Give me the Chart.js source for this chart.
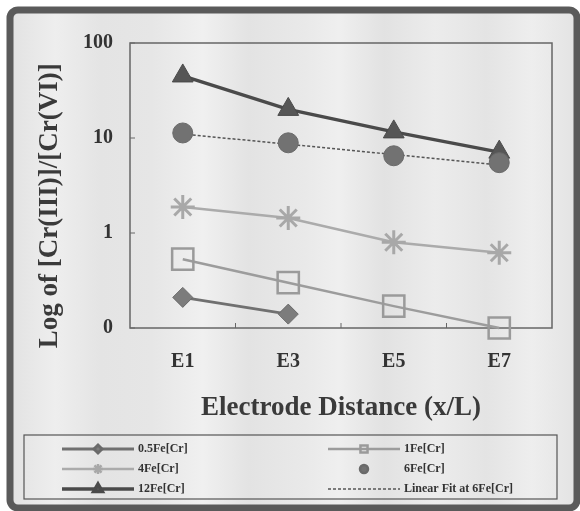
<!DOCTYPE html>
<html>
<head>
<meta charset="utf-8">
<script src="https://cdn.jsdelivr.net/npm/chart.js@4.4.1/dist/chart.umd.min.js"></script>
<style>
  html, body { margin: 0; padding: 0; background: #ffffff; }
  #wrap { width: 580px; height: 511px; }
</style>
</head>
<body>
<div id="wrap"><canvas id="cr" width="580" height="511"></canvas></div>
<script>
// data (log scale, 0.1 shown as "0")
const categories = ["E1", "E3", "E5", "E7"];
const fe05 = [0.21, 0.14, null, null];
const fe1 = [0.53, 0.30, 0.17, 0.10];
const fe4 = [1.88, 1.44, 0.80, 0.62];
const fe6 = [11.3, 8.9, 6.5, 5.5];
const fe12 = [45, 20, 11.6, 7.1];
const fit6 = [11, 8.6, 6.7, 5.2];
const yTicks = [0.1, 1, 10, 100];
const yTickLabels = ["0", "1", "10", "100"];

const SERIF = "'Liberation Serif', 'DejaVu Serif', serif";

// frame + gray paper background (with faint scan streaks)
const paperPlugin = {
  id: "paper",
  beforeDraw(chart) {
    const ctx = chart.ctx;
    ctx.save();
    ctx.fillStyle = "#ffffff";
    ctx.fillRect(0, 0, chart.width, chart.height);
    const g = ctx.createLinearGradient(10, 0, 577, 0);
    g.addColorStop(0.00, "#e2e2e2");
    g.addColorStop(0.08, "#eeeeee");
    g.addColorStop(0.16, "#e4e4e4");
    g.addColorStop(0.25, "#e6e6e6");
    g.addColorStop(0.34, "#f0f0f0");
    g.addColorStop(0.42, "#e3e3e3");
    g.addColorStop(0.52, "#e9e9e9");
    g.addColorStop(0.58, "#efefef");
    g.addColorStop(0.66, "#e2e2e2");
    g.addColorStop(0.75, "#ececec");
    g.addColorStop(0.84, "#e4e4e4");
    g.addColorStop(0.92, "#eeeeee");
    g.addColorStop(1.00, "#e3e3e3");
    ctx.beginPath();
    ctx.roundRect(10, 10, 567, 498, 8);
    ctx.fillStyle = g;
    ctx.fill();
    ctx.lineWidth = 7;
    ctx.strokeStyle = "#5a5a5a";
    ctx.stroke();
    ctx.restore();
  },
  beforeDatasetsDraw(chart) {
    const { ctx, chartArea: a, scales } = chart;
    ctx.save();
    ctx.strokeStyle = "#666";
    ctx.lineWidth = 1.5;
    ctx.strokeRect(a.left, a.top, a.right - a.left, a.bottom - a.top);
    // small inner tick marks
    ctx.lineWidth = 1;
    ctx.beginPath();
    for (let i = 0; i < categories.length - 1; i++) {
      const x = scales.x.getPixelForValue(i + 0.5);
      ctx.moveTo(x, a.bottom);
      ctx.lineTo(x, a.bottom - 5);
    }
    yTicks.forEach(v => {
      const y = scales.y.getPixelForValue(v);
      ctx.moveTo(a.left, y);
      ctx.lineTo(a.left + 5, y);
    });
    ctx.stroke();
    ctx.restore();
  }
};

// boxed two-column legend under the x title
const legendBoxPlugin = {
  id: "legendBox",
  afterDraw(chart) {
    const ctx = chart.ctx;
    const box = { x: 24, y: 435, w: 533, h: 64 };
    const cols = [62, 328];
    const rows = [449, 469, 489];
    ctx.save();
    ctx.strokeStyle = "#555";
    ctx.lineWidth = 1.2;
    ctx.strokeRect(box.x, box.y, box.w, box.h);

    chart.data.datasets.forEach((ds, i) => {
      const x0 = cols[i % 2];
      const y = rows[Math.floor(i / 2)];
      const len = 72;
      if (ds.showLine !== false) {
        ctx.beginPath();
        ctx.setLineDash(ds.borderDash || []);
        ctx.strokeStyle = ds.borderColor;
        ctx.lineWidth = ds.borderWidth;
        ctx.moveTo(x0, y);
        ctx.lineTo(x0 + len, y);
        ctx.stroke();
        ctx.setLineDash([]);
      }
      if (ds.pointRadius > 0) {
        ctx.fillStyle = ds.pointBackgroundColor;
        ctx.strokeStyle = ds.pointBorderColor;
        Chart.helpers.drawPoint(ctx, {
          pointStyle: ds.pointStyle,
          radius: ds.legendRadius,
          borderWidth: ds.pointBorderWidth,
          rotation: 0
        }, x0 + len / 2, y);
      }
      ctx.fillStyle = "#333";
      ctx.font = "bold 12px " + SERIF;
      ctx.textBaseline = "middle";
      ctx.textAlign = "left";
      ctx.fillText(ds.label, x0 + len + 4, y);
    });
    ctx.restore();
  }
};

const datasets = [
  {
    label: "0.5Fe[Cr]", data: fe05,
    borderColor: "#707070", borderWidth: 3,
    pointStyle: "rectRot", pointRadius: 10, legendRadius: 4,
    pointBackgroundColor: "#7c7c7c", pointBorderColor: "#6a6a6a", pointBorderWidth: 1
  },
  {
    label: "1Fe[Cr]", data: fe1,
    borderColor: "#9c9c9c", borderWidth: 2.5,
    pointStyle: "rect", pointRadius: 15, legendRadius: 5,
    pointBackgroundColor: "rgba(0,0,0,0)", pointBorderColor: "#9a9a9a", pointBorderWidth: 2.5
  },
  {
    label: "4Fe[Cr]", data: fe4,
    borderColor: "#ababab", borderWidth: 2.5,
    pointStyle: "star", pointRadius: 12, legendRadius: 5,
    pointBackgroundColor: "#a8a8a8", pointBorderColor: "#a8a8a8", pointBorderWidth: 3
  },
  {
    label: "6Fe[Cr]", data: fe6, showLine: false,
    borderColor: "#6e6e6e", borderWidth: 0,
    pointStyle: "circle", pointRadius: 10, legendRadius: 4,
    pointBackgroundColor: "#727272", pointBorderColor: "#6a6a6a", pointBorderWidth: 1
  },
  {
    label: "12Fe[Cr]", data: fe12,
    borderColor: "#4a4a4a", borderWidth: 3.5,
    pointStyle: "triangle", pointRadius: 12, legendRadius: 5,
    pointBackgroundColor: "#565656", pointBorderColor: "#4a4a4a", pointBorderWidth: 1
  },
  {
    label: "Linear Fit at 6Fe[Cr]", data: fit6,
    borderColor: "#555", borderWidth: 1.5, borderDash: [3, 2],
    pointRadius: 0, legendRadius: 0
  }
].map(d => Object.assign({
  fill: false, tension: 0, clip: false, spanGaps: false,
  pointHoverRadius: d.pointRadius
}, d));

new Chart(document.getElementById("cr"), {
  type: "line",
  data: { labels: categories, datasets: datasets },
  options: {
    responsive: false,
    animation: false,
    events: [],
    layout: { padding: { left: 0, right: 28, top: 43, bottom: 78 } },
    plugins: {
      legend: { display: false },
      tooltip: { enabled: false }
    },
    scales: {
      x: {
        offset: true,
        grid: { display: false, drawTicks: false },
        border: { display: false },
        ticks: { color: "#333", padding: 22, font: { family: SERIF, size: 20, weight: "bold" } },
        title: {
          display: true, text: "Electrode Distance (x/L)", color: "#3a3a3a",
          padding: { top: 0, bottom: 9 },
          font: { family: SERIF, size: 27, weight: "bold" }
        },
        afterFit(scale) { scale.height = 105; }
      },
      y: {
        type: "logarithmic",
        min: 0.1,
        max: 100,
        grid: { display: false, drawTicks: false },
        border: { display: false },
        afterBuildTicks(scale) { scale.ticks = yTicks.map(v => ({ value: v })); },
        ticks: {
          color: "#333", padding: 17,
          font: { family: SERIF, size: 20, weight: "bold" },
          callback: (v) => yTickLabels[yTicks.indexOf(v)]
        },
        title: {
          display: true,
          text: "Log of [Cr(III)]/[Cr(VI)]\u00a0\u00a0\u00a0\u00a0\u00a0\u00a0",
          color: "#3a3a3a",
          padding: { top: 34, bottom: 0 },
          font: { family: SERIF, size: 27, weight: "bold" }
        },
        afterFit(scale) { scale.width = 130; }
      }
    }
  },
  plugins: [paperPlugin, legendBoxPlugin]
});
</script>
</body>
</html>
